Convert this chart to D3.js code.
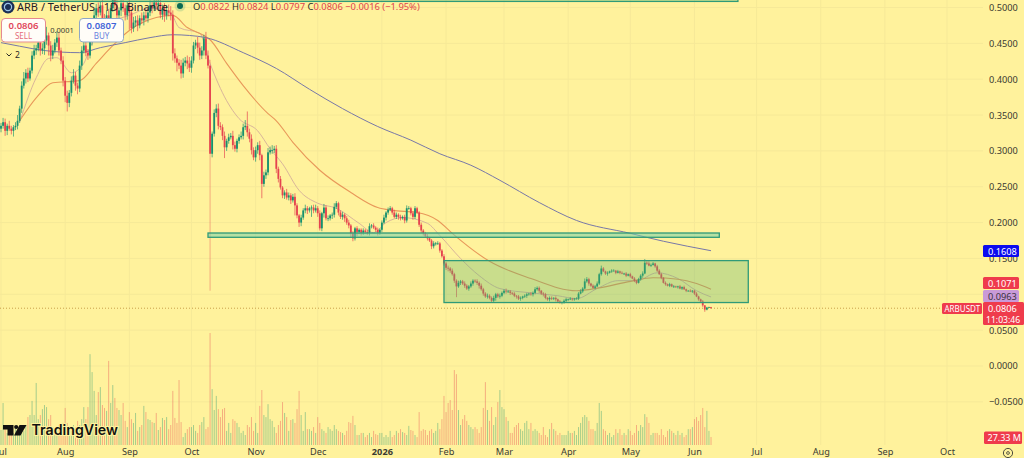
<!DOCTYPE html>
<html>
<head>
<meta charset="utf-8">
<title>ARB / TetherUS daily chart</title>
<script src="https://cdn.jsdelivr.net/npm/d3@7"></script>
<style>
  html, body { margin: 0; padding: 0; background: #fff29c; overflow: hidden; }
  svg { display: block; font-family: "Noto Sans", sans-serif; }
</style>
</head>
<body>
<svg id="chart" width="1024" height="458"></svg>
<script>
// Daily closes, one list per calendar month, starting 1 Jul 2025
const closesJul = [.335,.340,.328,.335,.331,.328,.333,.335,.342,.359,.391,.401,.409,.401,.412,.433,.440,.443,.451,.440,.443,.454,.461,.447,.433,.440,.451,.458,.440,.426,.398];
const closesAug = [.377,.367,.381,.398,.405,.391,.387,.419,.440,.447,.437,.433,.454,.475,.489,.499,.493,.503,.485,.475,.489,.482,.499,.513,.503,.489,.496,.506,.499,.489,.503];
const closesSep = [.493,.471,.479,.482,.475,.485,.482,.489,.485,.493,.503,.499,.507,.503,.506,.490,.499,.489,.496,.493,.490,.436,.429,.423,.419,.408,.423,.426,.422,.416];
const closesOct = [.426,.447,.451,.444,.433,.440,.457,.433,.419,.296,.324,.353,.359,.335,.333,.321,.305,.314,.319,.321,.308,.303,.314,.319,.321,.333,.335,.326,.317,.301,.291];
const closesNov = [.301,.308,.294,.254,.266,.270,.298,.301,.301,.303,.275,.261,.249,.238,.242,.235,.238,.231,.236,.224,.210,.200,.207,.217,.220,.217,.220,.221,.217,.220];
const closesDec = [.213,.192,.213,.221,.206,.206,.210,.211,.222,.227,.214,.208,.211,.206,.200,.196,.185,.178,.192,.187,.190,.186,.189,.187,.186,.195,.196,.193,.190,.186,.190];
const closesJan = [.200,.207,.214,.218,.220,.214,.208,.211,.208,.206,.208,.203,.220,.220,.213,.208,.220,.214,.197,.189,.185,.181,.178,.175,.167,.171,.171,.171,.161,.153,.143];
const closesFeb = [.137,.136,.133,.128,.119,.111,.116,.118,.115,.112,.108,.111,.115,.119,.118,.116,.112,.107,.101,.097,.098,.095,.091,.095,.100,.097,.098,.102];
const closesMar = [.105,.104,.104,.102,.101,.098,.097,.094,.095,.097,.098,.100,.101,.100,.102,.107,.109,.105,.101,.100,.095,.093,.095,.094,.095,.093,.090,.089,.089,.091,.093];
const closesApr = [.093,.094,.093,.094,.094,.101,.104,.108,.118,.121,.115,.112,.109,.111,.115,.128,.136,.132,.129,.130,.132,.133,.133,.130,.132,.130,.129,.129,.126,.128];
const closesMay = [.125,.122,.119,.116,.121,.126,.129,.144,.143,.140,.141,.143,.139,.133,.128,.123,.116,.114,.112,.114,.111,.111,.110,.111,.108,.110,.107,.105,.105,.104,.105];
const closesJun = [.101,.097,.093,.090,.0845,.0787,.0815,.0822,.0806];

// Wick lengths above and below the candle body, in thousandths of a dollar
const wickUpper = [
  4,6,5,3,7,4,3,5,8,4,6,9,5,7,4,6,8,5,9,6,7,5,12,4,6,8,5,9,7,4,6,
  5,7,4,6,9,5,4,7,6,10,8,5,12,7,9,6,8,5,10,6,7,9,5,8,6,10,4,7,9,5,6,
  9,5,8,6,7,4,8,5,9,6,7,5,8,4,6,9,5,7,6,8,9,6,7,4,5,8,6,5,7,9,
  6,5,4,8,7,6,5,9,7,8,3,5,6,7,5,4,6,3,5,4,7,5,3,4,6,5,8,20,5,6,4,
  5,4,6,2,5,4,6,5,7,4,5,3,4,2,3,5,4,3,4,5,3,2,4,3,5,3,2,3,4,5,
  3,4,2,5,3,4,2,3,5,3,2,3,4,2,3,4,2,3,2,3,2,2,3,2,3,4,2,3,2,3,2,
  3,4,2,3,3,2,4,3,2,3,2,3,4,3,2,3,3,2,2,3,2,2,3,2,2,3,2,3,2,2,3,
  2,3,2,3,2,2,3,2,2,3,2,2,3,2,2,3,2,3,2,2,3,2,2,3,2,2,3,2,
  2,3,2,2,1,2,1,2,2,1,2,2,1,2,2,3,2,2,1,2,2,1,2,2,1,2,1,2,1,2,2,
  1,2,1,1,2,2,3,2,4,3,2,1,2,2,3,2,4,2,1,2,1,2,2,1,2,1,2,1,2,1,
  2,1,2,1,2,2,3,5,2,3,2,2,1,2,2,2,1,2,1,2,1,2,1,1,2,1,2,1,1,2,1,
  1,2,1,1,2,.5,1,.5,.2
];
const wickLower = [
  5,4,7,6,3,5,8,4,5,3,6,4,7,5,3,4,5,6,4,7,5,9,6,14,8,5,4,6,7,5,8,
  9,12,6,5,4,7,8,5,6,4,5,6,4,7,5,8,6,4,9,7,5,6,8,5,7,4,6,8,5,7,6,
  24,7,5,6,8,4,5,7,4,6,5,7,4,6,8,5,7,9,6,5,8,10,6,12,5,7,6,5,8,6,
  7,4,5,8,6,5,7,5,4,191,5,4,6,5,4,6,15,5,4,3,6,4,5,4,3,5,4,6,5,6,4,
  6,5,7,20,4,5,4,3,5,4,6,5,3,4,5,3,4,5,3,14,4,6,5,3,4,5,3,12,4,3,
  5,3,4,6,3,4,3,5,4,3,4,3,4,5,3,4,5,4,3,6,3,4,3,2,3,4,3,2,3,4,3,
  3,2,4,3,2,3,2,3,4,3,2,4,3,2,3,4,3,2,3,4,3,2,3,2,4,3,3,2,3,2,3,
  3,4,3,2,3,15,2,3,2,3,2,3,2,3,2,3,4,2,3,2,3,2,3,2,4,2,3,2,
  2,3,2,3,2,2,3,2,3,2,2,3,2,2,3,2,2,3,2,3,2,2,3,2,2,3,2,2,3,2,2,
  2,1,2,2,1,2,1,2,1,2,3,2,1,2,1,2,2,1,2,3,1,2,1,2,1,2,1,2,2,1,
  2,1,2,2,1,2,3,1,2,1,2,1,2,2,1,2,1,2,1,2,1,2,1,2,1,2,1,2,1,1,2,
  2,1,2,1,2,3,1,.5,.9
];

// Daily traded volume in millions of tokens
const volumes = [
  51,143,61,41,68,54,41,61,48,54,41,48,68,95,102,150,102,211,88,102,122,136,129,88,102,61,54,48,68,61,75,
  126,75,54,48,68,61,82,68,88,129,88,129,309,248,184,102,180,197,136,126,116,286,143,204,160,126,119,102,143,82,61,
  112,88,75,109,48,61,68,133,112,88,85,78,75,109,51,61,92,85,95,54,68,184,92,75,221,78,27,41,54,61,
  61,68,48,41,68,78,95,54,61,381,190,119,167,122,95,122,126,48,75,41,88,82,75,61,41,48,34,68,61,95,48,
  75,41,133,187,102,95,139,88,82,61,41,68,82,146,109,95,48,85,88,75,122,184,102,48,112,54,54,48,61,41,
  95,75,54,48,41,61,54,48,68,54,48,44,41,34,48,78,75,99,68,34,34,41,41,27,34,41,27,48,37,34,41,
  41,27,34,27,48,27,34,48,41,54,44,41,34,65,51,48,34,27,112,48,54,51,34,48,54,41,48,75,54,88,167,
  112,143,153,119,255,241,119,68,88,102,82,68,61,54,61,54,41,61,126,214,119,82,129,68,95,146,187,129,
  122,95,82,41,41,61,68,75,54,48,75,82,54,75,48,54,48,41,34,61,34,27,54,75,54,48,34,41,34,34,34,
  48,41,41,48,34,61,75,95,102,95,82,54,54,48,75,143,116,54,48,34,41,27,34,54,41,54,34,41,34,54,
  48,34,41,68,48,68,61,105,95,75,34,41,41,41,34,54,34,27,48,54,48,41,34,48,34,41,27,34,54,54,61,
  88,95,82,102,126,61,116,48,27.33
];

// Moving averages read at key dates: day number counted from 1 Jul 2025, then price
const slowMaDays = [0,9,21,38,48,60,72,83,91,99,117,133,149,165,182,198,212,227,241,260,278,304,320,343];
const slowMaValues = [.451,.446,.440,.437,.444,.451,.458,.462,.461,.458,.437,.415,.386,.359,.334,.315,.296,.280,.259,.228,.203,.185,.174,.1608];
const midMaDays = [9,17,25,38,46,53,62,75,83,90,98,101,109,117,129,133,141,154,169,182,189,201,211,218,236,256,278,289,304,315,327,336,343];
const midMaValues = [.342,.374,.395,.398,.422,.444,.468,.486,.489,.472,.461,.455,.422,.391,.352,.342,.312,.273,.242,.221,.217,.214,.203,.185,.146,.122,.105,.109,.118,.123,.121,.115,.1071];
const fastMaDays = [9,17,23,27,34,40,43,50,62,72,82,86,96,101,109,115,124,130,136,144,153,162,173,180,186,194,206,212,222,231,241,256,269,278,288,298,307,317,327,336,343];
const fastMaValues = [.340,.402,.429,.430,.409,.422,.444,.475,.489,.499,.492,.472,.464,.422,.370,.345,.328,.303,.282,.245,.227,.220,.199,.186,.200,.207,.199,.182,.150,.126,.108,.102,.098,.094,.108,.119,.119,.130,.122,.105,.0963];

// Axis labels
const priceTicks = [.5,.45,.4,.35,.3,.25,.2,.15,.1,.05,0,-.05];
const monthTicks = [
  [2025,6,"Jul"],[2025,7,"Aug"],[2025,8,"Sep"],[2025,9,"Oct"],[2025,10,"Nov"],[2025,11,"Dec"],
  [2026,0,"2026"],[2026,1,"Feb"],[2026,2,"Mar"],[2026,3,"Apr"],[2026,4,"May"],[2026,5,"Jun"],
  [2026,6,"Jul"],[2026,7,"Aug"],[2026,8,"Sep"],[2026,9,"Oct"]
];

// Drawn zones: first and last date, upper and lower price
const zones = [
  { from: [2025,6,1],  to: [2026,5,22], top: .53,  bottom: .5085, fill: "rgba(120,200,120,.35)" },
  { from: [2025,9,9],  to: [2026,5,13], top: .1855, bottom: .1795, fill: "rgba(120,210,170,.55)" },
  { from: [2026,0,31], to: [2026,5,27], top: .147,  bottom: .0885, fill: "rgba(90,180,110,.33)" }
];

const colors = {
  up: "#16906f", down: "#e5434f", grid: "#f6e998", text: "#3a3a32",
  slow: "#7878a8", mid: "#e8985a", fast: "#d9b59a", zone: "#2f9a78",
  red: "#ef3b4c", blue: "#0b0bef", purple: "#c99ad8"
};

const closes = [].concat(closesJul, closesAug, closesSep, closesOct, closesNov, closesDec,
                         closesJan, closesFeb, closesMar, closesApr, closesMay, closesJun);
const startDate = new Date(2025, 6, 1);
const dayDate = n => d3.timeDay.offset(startDate, n);

const candles = closes.map((close, i) => {
  const open = i === 0 ? .331 : closes[i - 1];
  return {
    date: dayDate(i), open, close,
    high: Math.max(open, close) + wickUpper[i] / 1000,
    low: Math.min(open, close) - wickLower[i] / 1000,
    volume: volumes[i]
  };
});

const PLOT_RIGHT = 983, WIDTH = 1024, HEIGHT = 458, VOLUME_BASE = 445;

const x = d3.scaleTime().domain([new Date(2025, 6, 1), new Date(2026, 9, 1)]).range([1, 947]);
const y = d3.scaleLinear().domain([0, .5]).range([366, 7.5]);
const yVolume = d3.scaleLinear().domain([0, 400]).range([VOLUME_BASE, VOLUME_BASE - 117.6]);

const svg = d3.select("#chart");
svg.append("rect").attr("width", WIDTH).attr("height", HEIGHT).attr("fill", "#fff29c");

svg.append("defs").append("clipPath").attr("id", "plot")
  .append("rect").attr("width", PLOT_RIGHT).attr("height", VOLUME_BASE + 1);

// Grid
const monthDates = monthTicks.map(m => new Date(m[0], m[1], 1));
const grid = svg.append("g");
grid.selectAll("line.h").data(priceTicks).join("line").attr("class", "h")
  .attr("x1", 0).attr("x2", PLOT_RIGHT).attr("y1", d => y(d)).attr("y2", d => y(d))
  .attr("stroke", colors.grid);
grid.selectAll("line.v").data(monthDates).join("line").attr("class", "v")
  .attr("x1", d => x(d)).attr("x2", d => x(d)).attr("y1", 0).attr("y2", VOLUME_BASE)
  .attr("stroke", colors.grid);

const plot = svg.append("g").attr("clip-path", "url(#plot)");

// Volume columns
plot.append("g").selectAll("rect").data(candles).join("rect")
  .attr("x", d => x(d.date) - .5).attr("width", 1)
  .attr("y", d => yVolume(d.volume))
  .attr("height", d => VOLUME_BASE - yVolume(d.volume))
  .attr("fill", d => d.close >= d.open ? colors.up : colors.down)
  .attr("opacity", .38);

// Moving averages
const maLine = d3.line().x(d => x(d[0])).y(d => y(d[1])).curve(d3.curveMonotoneX);
const maSeries = [
  [fastMaDays, fastMaValues, colors.fast, 1],
  [midMaDays, midMaValues, colors.mid, 1.1],
  [slowMaDays, slowMaValues, colors.slow, 1]
];
plot.append("g").selectAll("path").data(maSeries).join("path")
  .attr("d", s => maLine(s[0].map((day, i) => [dayDate(day), s[1][i]])))
  .attr("fill", "none").attr("stroke", s => s[2]).attr("stroke-width", s => s[3]);

// Candles
const candleGroup = plot.append("g");
candleGroup.selectAll("line").data(candles).join("line")
  .attr("x1", d => x(d.date)).attr("x2", d => x(d.date))
  .attr("y1", d => y(d.high)).attr("y2", d => y(d.low))
  .attr("stroke", d => d.close >= d.open ? colors.up : colors.down)
  .attr("stroke-width", .8)
  .attr("opacity", d => (d.open - d.low) > .15 ? .5 : .85);
candleGroup.selectAll("rect").data(candles).join("rect")
  .attr("x", d => x(d.date) - .9).attr("width", 1.8)
  .attr("y", d => y(Math.max(d.open, d.close)))
  .attr("height", d => Math.max(.8, Math.abs(y(d.open) - y(d.close))))
  .attr("fill", d => d.close >= d.open ? colors.up : colors.down);

// Highlighted zones
plot.append("g").selectAll("rect").data(zones).join("rect")
  .attr("x", d => x(new Date(...d.from)))
  .attr("width", d => x(new Date(...d.to)) - x(new Date(...d.from)))
  .attr("y", d => y(d.top))
  .attr("height", d => y(d.bottom) - y(d.top))
  .attr("fill", d => d.fill)
  .attr("stroke", colors.zone).attr("stroke-width", 1.3);

// Last price guide
const lastPrice = closes[closes.length - 1];
svg.append("line").attr("x1", 0).attr("x2", PLOT_RIGHT)
  .attr("y1", y(lastPrice)).attr("y2", y(lastPrice))
  .attr("stroke", "#c9a04a").attr("stroke-width", 1).attr("stroke-dasharray", "1 2");

// Price axis
const priceAxis = svg.append("g").attr("transform", `translate(${PLOT_RIGHT},0)`)
  .call(d3.axisRight(y).tickValues(priceTicks).tickSize(0).tickPadding(6)
    .tickFormat(d => d3.format(".4f")(d).replace("-", "\u2212")));
priceAxis.select(".domain").remove();
priceAxis.selectAll("text").attr("fill", colors.text).attr("font-size", 9.2)
  .attr("font-family", '"Noto Sans", sans-serif');

// Time axis
const timeAxis = svg.append("g").attr("transform", `translate(0,${VOLUME_BASE + 3})`)
  .call(d3.axisBottom(x).tickValues(monthDates).tickSize(0).tickPadding(0)
    .tickFormat((d, i) => monthTicks[i][2]));
timeAxis.select(".domain").remove();
timeAxis.selectAll("text").attr("fill", colors.text).attr("font-size", 9.2)
  .attr("font-family", '"Noto Sans", sans-serif')
  .attr("font-weight", (d, i) => monthTicks[i][2] === "2026" ? 700 : 400);

// Value tags on the price scale
const labelFont = '"Noto Sans", sans-serif';
function tag(xPos, yPos, w, h, fill, lines, textFill) {
  const g = svg.append("g");
  g.append("rect").attr("x", xPos).attr("y", yPos).attr("width", w).attr("height", h)
    .attr("rx", 1.5).attr("fill", fill);
  lines.forEach(l => g.append("text")
    .attr("x", xPos + (l.pad || 5)).attr("y", yPos + l.dy)
    .attr("fill", textFill).attr("font-size", l.size || 9.2).attr("font-family", labelFont)
    .text(l.text));
}
tag(983, 245, 36, 12, colors.blue, [{ text: "0.1608", dy: 9.5 }], "#fff");
tag(983, 277, 36, 12, colors.red, [{ text: "0.1071", dy: 9.5 }], "#fff");
tag(983, 290, 36, 12, colors.purple, [{ text: "0.0963", dy: 9.5 }], "#3a3340");
tag(983, 302, 41, 23, colors.red, [{ text: "0.0806", dy: 10 }, { text: "11:03:46", dy: 20.5, pad: 3, size: 8.6 }], "#fff");
tag(942, 303, 40, 11, colors.red, [{ text: "ARBUSDT", dy: 8.6, pad: 2.5, size: 8 }], "#fff");
tag(984, 431.5, 38, 12.5, colors.red, [{ text: "27.33 M", dy: 9.6, pad: 3.5, size: 9 }], "#fff");

// Settings glyph under the price scale
svg.append("circle").attr("cx", 1008).attr("cy", 453).attr("r", 4.6)
  .attr("fill", "none").attr("stroke", colors.text).attr("stroke-width", .9);
svg.append("circle").attr("cx", 1008).attr("cy", 453).attr("r", 1.4)
  .attr("fill", "none").attr("stroke", colors.text).attr("stroke-width", .8);

// Symbol heading
svg.append("circle").attr("cx", 8).attr("cy", 7).attr("r", 6.5).attr("fill", "#1b2f55");
svg.append("circle").attr("cx", 8).attr("cy", 7).attr("r", 3.6).attr("fill", "none")
  .attr("stroke", "#9cc6ec").attr("stroke-width", 1.2);
svg.append("text").attr("x", 17).attr("y", 11).attr("font-size", 11).attr("fill", "#1f2028")
  .text("ARB / TetherUS \u00b7 1D \u00b7 Binance");
svg.append("circle").attr("cx", 180).attr("cy", 6).attr("r", 5.5).attr("fill", "#16906f").attr("opacity", .18);
svg.append("circle").attr("cx", 180).attr("cy", 6).attr("r", 3).attr("fill", "#0c6b52");

const quote = [["O", "0.0822"], ["H", "0.0824"], ["L", "0.0797"], ["C", "0.0806"]];
const quoteText = svg.append("text").attr("x", 193).attr("y", 10).attr("font-size", 9.4);
quote.forEach(q => {
  quoteText.append("tspan").attr("fill", "#2a2a28").text(q[0]);
  quoteText.append("tspan").attr("fill", "#e0444f").text(q[1] + "  ");
});
quoteText.append("tspan").attr("fill", "#e0444f").text("\u22120.0016 (\u22121.95%)");

// Trade buttons
function tradeButton(bx, stroke, fill, price, word) {
  const g = svg.append("g");
  g.append("rect").attr("x", bx).attr("y", 18.5).attr("width", 44).attr("height", 23.5)
    .attr("rx", 3.5).attr("fill", "#fffdf8").attr("stroke", stroke).attr("stroke-width", 1);
  g.append("text").attr("x", bx + 22).attr("y", 29).attr("text-anchor", "middle")
    .attr("font-size", 9.5).attr("font-weight", 600).attr("fill", fill).text(price);
  g.append("text").attr("x", bx + 22).attr("y", 39).attr("text-anchor", "middle")
    .attr("font-size", 8).attr("fill", fill).attr("opacity", .8).text(word);
}
tradeButton(1.5, "#e58a8f", "#e0465a", "0.0806", "SELL");
tradeButton(79.5, "#8fa7c4", "#3f63d8", "0.0807", "BUY");
svg.append("text").attr("x", 62).attr("y", 33).attr("text-anchor", "middle")
  .attr("font-size", 7.5).attr("fill", colors.text).text("0.0001");

// Collapsed indicators counter
svg.append("path").attr("d", "M6.5 53.5 L9 56 L11.5 53.5").attr("fill", "none")
  .attr("stroke", "#2a2a28").attr("stroke-width", 1);
svg.append("text").attr("x", 15).attr("y", 58).attr("font-size", 8.5).attr("fill", "#2a2a28").text("2");

// Publisher mark
const mark = svg.append("g").attr("fill", "#111");
mark.append("path").attr("d", "M3 425 H13.5 V435.5 H7.5 V429.5 H3 Z");
mark.append("circle").attr("cx", 16.2).attr("cy", 427).attr("r", 2.1);
mark.append("path").attr("d", "M19.5 425 H26.5 L20.5 435.5 H14 Z");
svg.append("text").attr("x", 31.5).attr("y", 435).attr("font-size", 14.2).attr("font-weight", 600)
  .attr("font-family", 'Inter, "Noto Sans", sans-serif').attr("fill", "#111")
  .attr("stroke", "#fff29c").attr("stroke-width", 2.2).attr("paint-order", "stroke")
  .text("TradingView");
</script>
</body>
</html>
